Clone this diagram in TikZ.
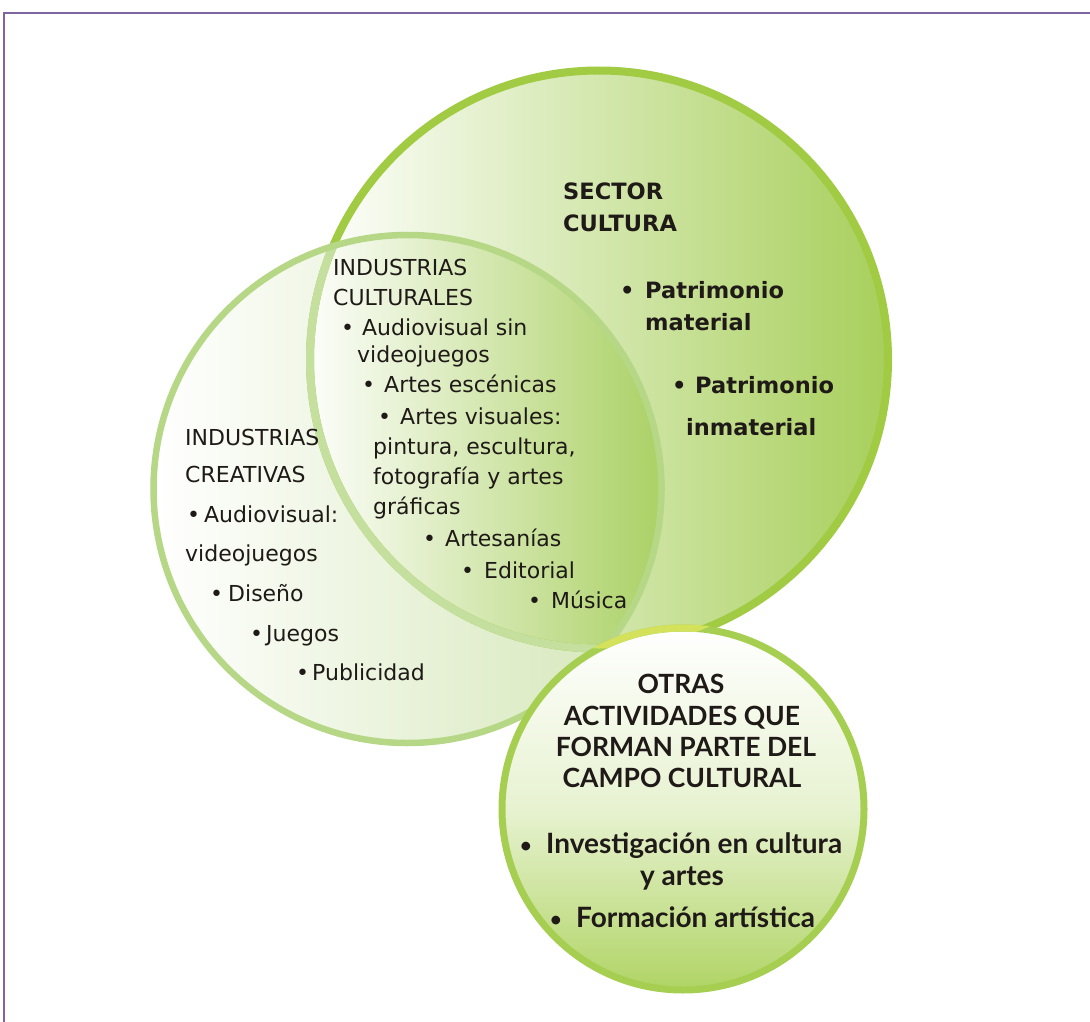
\documentclass[tikz,border=0pt]{standalone}
\usepackage{fontspec}
\setmainfont{DejaVu Sans}
\newfontfamily\latofont{Lato}
\definecolor{ink}{HTML}{1F1A17}
\definecolor{frame}{HTML}{8064A2}
\definecolor{bigline}{HTML}{A0CB42}
\definecolor{bigpale}{HTML}{C4DF9E}
\definecolor{leftline}{HTML}{B6D785}
\definecolor{botline}{HTML}{A6CF52}
\definecolor{botyel}{HTML}{D3E25A}
\definecolor{gmid}{HTML}{E4EFD3}
\definecolor{gright}{HTML}{A8CF5C}
\definecolor{lright}{HTML}{D3E6B5}
\definecolor{lensmid}{HTML}{D6E8BA}
\definecolor{lensright}{HTML}{AAD063}
\definecolor{botbottom}{HTML}{B0D465}
\newcommand\bul[1]{\makebox[#1pt][l]{\textbullet}}
\newcommand\obul[1]{\makebox[#1pt][l]{\raisebox{1pt}{\fontsize{20}{20}\selectfont\textbullet}}}
\tikzset{
  txt/.style={anchor=base west, inner sep=0pt, text=ink, font=\fontsize{22}{26}\selectfont},
  btxt/.style={anchor=base west, inner sep=0pt, text=ink, font=\fontsize{22.5}{27}\selectfont\bfseries},
  otxt/.style={anchor=base, inner sep=0pt, text=ink, font=\latofont\fontsize{26.5}{32}\selectfont\bfseries},
  oitem/.style={anchor=base west, inner sep=0pt, text=ink, font=\latofont\fontsize{28}{32}\selectfont\bfseries},
  oitemc/.style={anchor=base, inner sep=0pt, text=ink, font=\latofont\fontsize{28}{32}\selectfont\bfseries},
}
\begin{document}
\begin{tikzpicture}[x=1pt,y=-1pt]
\useasboundingbox (0,0) rectangle (1090,1022);
\coordinate (cbig) at (599,359.5);
\coordinate (cleft) at (407.5,489);
\coordinate (cbot) at (683,809);
% big circle fill
\path[left color=white, middle color=gmid, right color=gright] (cbig) circle[radius=289pt];
% left circle fill
\path[left color=white, middle color=white, right color=lright] (cleft) circle[radius=254pt];
% lens
\begin{scope}
  \clip (cleft) circle[radius=254pt];
  \clip (cbig) circle[radius=289pt];
  \path[left color=white!96!lensmid, middle color=lensmid, right color=lensright] (305,60) rectangle (668,760);
\end{scope}
% strokes
\draw[bigline, line width=8pt] (cbig) circle[radius=289pt];
\begin{scope}
  \clip (cleft) circle[radius=254pt];
  \draw[bigpale, line width=8pt] (cbig) circle[radius=289pt];
\end{scope}
\draw[leftline, line width=6.5pt] (cleft) circle[radius=254pt];
% bottom circle
\path[top color=white, bottom color=botbottom, middle color=white!70!botbottom] (cbot) circle[radius=181pt];
\draw[botline, line width=7pt] (cbot) circle[radius=181pt];
\begin{scope}
  \clip (cbig) circle[radius=289pt];
  \draw[botyel, line width=7pt] (cbot) circle[radius=181pt];
\end{scope}
% frame
\coordinate (fbl) at (4,1022);
\coordinate (ftl) at (4,13);
\coordinate (ftr) at (1090,13);
\draw[frame, line width=2pt] (fbl) -- (ftl) -- (ftr);
% sector cultura
\node[btxt] (s1) at (563,199) {SECTOR};
\node[btxt] (s2) at (563,231) {CULTURA};
\node[btxt] (s3) at (620,298) {\bul{25}Patrimonio};
\node[btxt] (s4) at (645,330) {material};
\node[btxt] (s5) at (672,393) {\bul{23}Patrimonio};
\node[btxt] (s6) at (686,435) {inmaterial};
% industrias culturales
\node[txt] (c1) at (333,275) {INDUSTRIAS};
\node[txt] (c2) at (333,305) {CULTURALES};
\node[txt] (c3) at (341,335) {\bul{21}Audiovisual sin};
\node[txt] (c4) at (357,362) {videojuegos};
\node[txt] (c5) at (362,392) {\bul{22}Artes escénicas};
\node[txt] (c6) at (378,424) {\bul{22}Artes visuales:};
\node[txt] (c7) at (373,454) {pintura, escultura,};
\node[txt] (c8) at (373,484) {fotografía y artes};
\node[txt] (c9) at (373,514) {gráficas};
\node[txt] (c10) at (423,546) {\bul{22}Artesanías};
\node[txt] (c11) at (461,578) {\bul{23}Editorial};
\node[txt] (c12) at (528,608) {\bul{23}Música};
% industrias creativas
\node[txt] (l1) at (185,445) {INDUSTRIAS};
\node[txt] (l2) at (185,482) {CREATIVAS};
\node[txt] (l3) at (187,522) {\bul{17}Audiovisual:};
\node[txt] (l4) at (185,561) {videojuegos};
\node[txt] (l5) at (210,601) {\bul{18}Diseño};
\node[txt] (l6) at (250,641) {\bul{16}Juegos};
\node[txt] (l7) at (296,680) {\bul{16}Publicidad};
% otras actividades
\node[otxt] (o1) at (681,693) {OTRAS};
\node[otxt] (o2) at (682,725) {ACTIVIDADES QUE};
\node[otxt] (o3) at (686,756) {FORMAN PARTE DEL};
\node[otxt] (o4) at (682,787) {CAMPO CULTURAL};
\node[oitem] (o5) at (520,853) {\obul{26}Investigación en cultura};
\node[oitemc] (o6) at (682,885) {y artes};
\node[oitem] (o7) at (550,927) {\obul{26}Formación artística};
\end{tikzpicture}
\end{document}
